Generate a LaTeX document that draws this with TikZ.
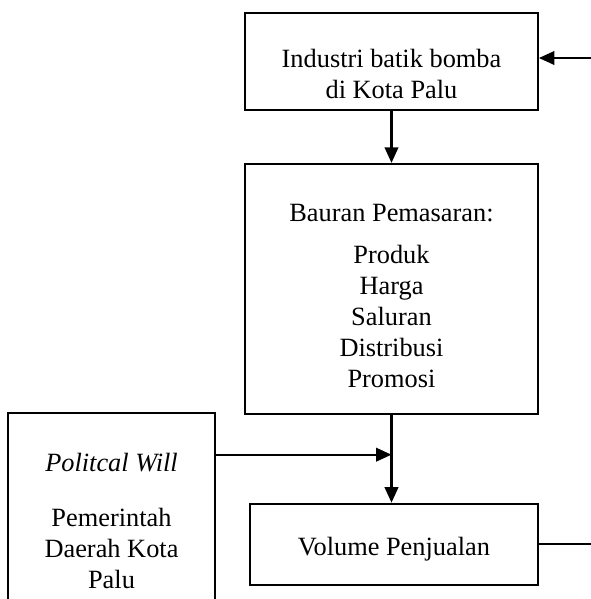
\documentclass[tikz,border=0pt]{standalone}
\usepackage{fontspec}
\setmainfont{Liberation Serif}
\usetikzlibrary{positioning, arrows.meta}

\begin{document}
\begin{tikzpicture}[
         x=0.02cm, y=-0.02cm,
         box/.style={draw, line width=1.05pt, align=center, inner sep=0pt,
                     font=\fontsize{15}{17.6}\selectfont},
         flow/.style={-{Triangle[length=0.31cm, width=0.27cm]}, line width=1.3pt},
         link/.style={line width=1.3pt}
      ]
         \useasboundingbox (0,0) rectangle (591,599);

         % Nodes for the boxes
         \node[box, minimum width=5.86cm, minimum height=1.94cm] (industri) at (391.5,61.5)
            {\rule{0pt}{25pt}Industri batik bomba\\di Kota Palu};
         \node[box, minimum width=5.86cm, minimum height=5cm] (bauran) [below=1.04cm of industri]
            {\rule{0pt}{18pt}Bauran Pemasaran:\\[6pt]Produk\\Harga\\Saluran\\Distribusi\\Promosi};
         \node[box, minimum width=5.76cm, minimum height=1.62cm] (volume) [below=1.76cm of bauran, xshift=0.05cm]
            {\rule{0pt}{16pt}Volume Penjualan};
         \node[box, minimum width=4.14cm, minimum height=4.32cm] (political) at (111.5,521)
            {\textit{Politcal Will}\\[14pt]Pemerintah\\Daerah Kota\\Palu};

         % Free ends and the joint
         \coordinate (fbin) at (591,58);
         \coordinate (fbout) at (591,544);
         \coordinate[below=0.8cm of bauran.south] (join);

         % Arrows
         \draw[flow] (fbin) -- (fbin -| industri.east);
         \draw[flow] (industri) -- (bauran);
         \draw[flow] (bauran.south) -- (bauran.south |- volume.north);
         \draw[flow] (join -| political.east) -- (join);
         \draw[link] (fbout -| volume.east) -- (fbout);
      \end{tikzpicture}
\end{document}
